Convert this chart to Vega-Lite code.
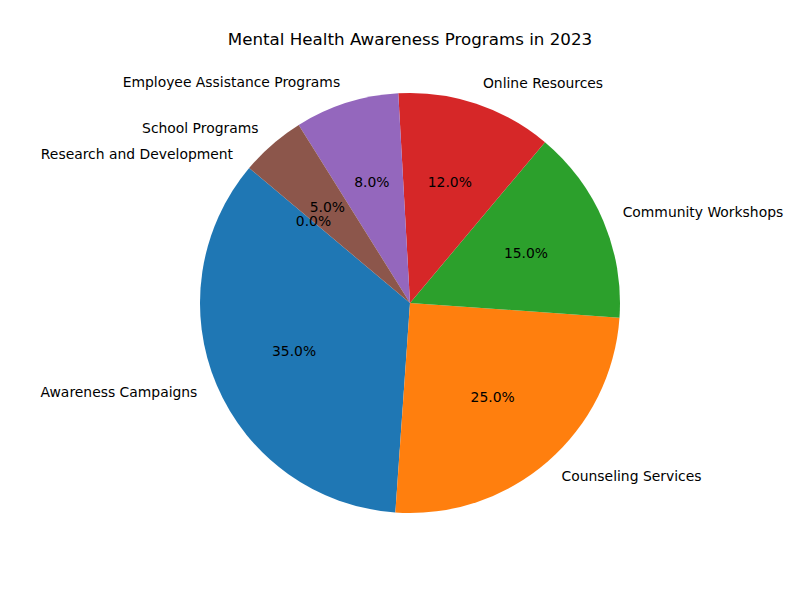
{
  "$schema": "https://vega.github.io/schema/vega-lite/v6.json",
  "width": 800,
  "height": 600,
  "autosize": {"type": "none"},
  "padding": {"left": 10, "top": 3, "right": 0, "bottom": 0},
  "background": "white",
  "title": {
    "text": "Mental Health Awareness Programs in 2023",
    "font": "DejaVu Sans",
    "fontSize": 16.7,
    "fontWeight": "normal",
    "color": "black",
    "anchor": "middle",
    "baseline": "alphabetic",
    "offset": -59
  },
  "data": {
    "values": [
      {"program": "Awareness Campaigns", "value": 35, "pct": "35.0%", "idx": 0},
      {"program": "Counseling Services", "value": 25, "pct": "25.0%", "idx": 1},
      {"program": "Community Workshops", "value": 15, "pct": "15.0%", "idx": 2},
      {"program": "Online Resources", "value": 12, "pct": "12.0%", "idx": 3},
      {"program": "Employee Assistance Programs", "value": 8, "pct": "8.0%", "idx": 4},
      {"program": "School Programs", "value": 5, "pct": "5.0%", "idx": 5},
      {"program": "Research and Development", "value": 0, "pct": "0.0%", "idx": 6}
    ]
  },
  "encoding": {
    "theta": {
      "field": "value",
      "type": "quantitative",
      "stack": true,
      "scale": {"domain": [0, 100], "range": [5.41052, 11.6937]}
    },
    "order": {"field": "idx", "sort": "descending"}
  },
  "layer": [
    {
      "mark": {"type": "arc", "outerRadius": 210},
      "encoding": {
        "color": {
          "field": "program",
          "type": "nominal",
          "scale": {
            "domain": ["Awareness Campaigns", "Counseling Services", "Community Workshops", "Online Resources", "Employee Assistance Programs", "School Programs", "Research and Development"],
            "range": ["#1f77b4", "#ff7f0e", "#2ca02c", "#d62728", "#9467bd", "#8c564b", "#e377c2"]
          },
          "legend": null
        }
      }
    },
    {
      "mark": {
        "type": "text",
        "radius": 231,
        "font": "DejaVu Sans",
        "fontSize": 13.9,
        "color": "black",
        "baseline": "middle",
        "align": {"expr": "indexof(['Awareness Campaigns','School Programs','Employee Assistance Programs','Research and Development'], datum.program) >= 0 ? 'right' : 'left'"}
      },
      "encoding": {"text": {"field": "program", "type": "nominal"}}
    },
    {
      "mark": {
        "type": "text",
        "radius": 126,
        "font": "DejaVu Sans",
        "fontSize": 13.9,
        "color": "black",
        "baseline": "middle",
        "align": "center"
      },
      "encoding": {"text": {"field": "pct", "type": "nominal"}}
    }
  ]
}
